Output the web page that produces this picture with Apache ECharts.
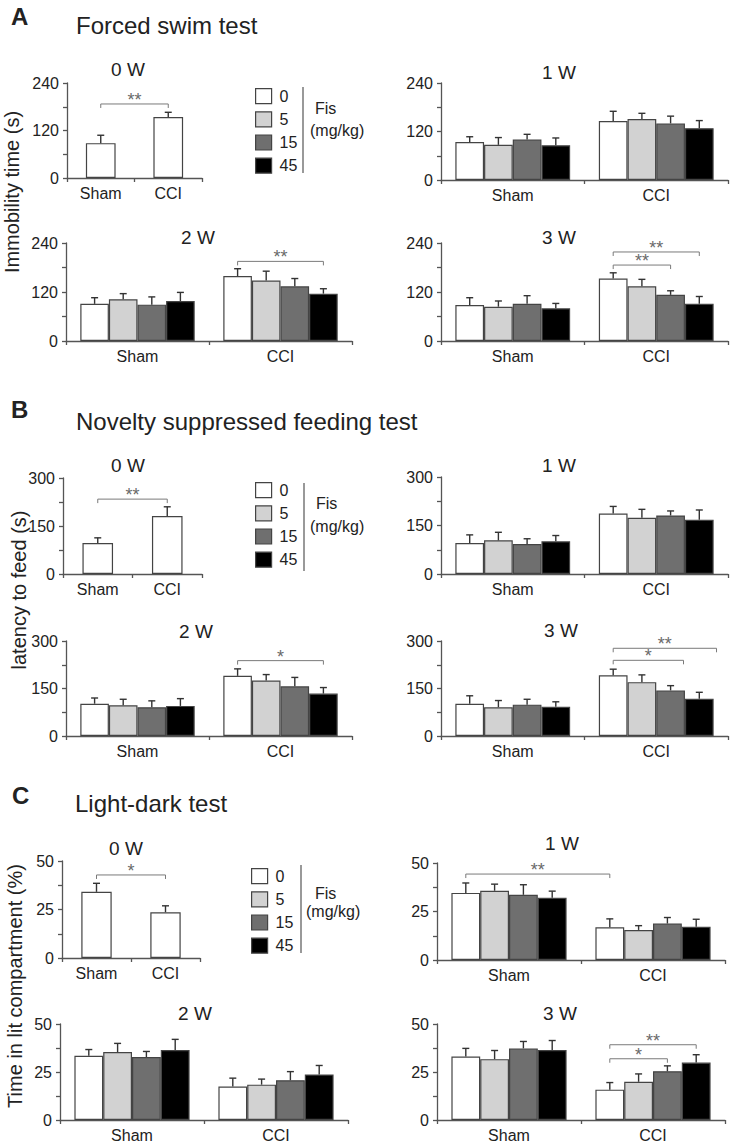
<!DOCTYPE html>
<html><head><meta charset="utf-8">
<script src="https://cdn.jsdelivr.net/npm/echarts@6/dist/echarts.min.js"></script>
<style>html,body{margin:0;padding:0;background:#fff}#c{width:731px;height:1145px}</style>
</head><body><div id="c"></div>
<script>
// ---------- data ----------
const categories = ['Sham', 'CCI'];
const doses = ['0', '5', '15', '45'];
const fstTicks = [0, 120, 240];
const nsfTicks = [0, 150, 300];
const ldtTicks = [0, 25, 50];

// A: Forced swim test, immobility time (s); rows = [Sham, CCI], cols = dose 0,5,15,45
const fst0W_mean = [88, 154], fst0W_sem = [20, 12];
const fst1W_mean = [[94, 87, 100, 86], [146, 151, 140, 128]];
const fst1W_sem = [[13, 18, 13, 18], [24, 14, 18, 19]];
const fst2W_mean = [[91, 102, 89, 98], [159, 148, 134, 116]];
const fst2W_sem = [[15, 14, 19, 21], [18, 23, 19, 12]];
const fst3W_mean = [[88, 84, 91, 80], [153, 134, 113, 91]];
const fst3W_sem = [[18, 14, 20, 12], [14, 17, 10, 18]];

// B: Novelty suppressed feeding test, latency to feed (s)
const nsf0W_mean = [97, 181], nsf0W_sem = [16, 29];
const nsf1W_mean = [[96, 104, 93, 101], [187, 174, 181, 168]];
const nsf1W_sem = [[25, 25, 16, 18], [22, 26, 14, 30]];
const nsf2W_mean = [[102, 97, 91, 95], [190, 175, 157, 134]];
const nsf2W_sem = [[18, 19, 20, 23], [22, 19, 28, 19]];
const nsf3W_mean = [[102, 91, 99, 92], [192, 170, 144, 118]];
const nsf3W_sem = [[25, 21, 17, 16], [19, 23, 15, 20]];

// C: Light-dark test, time in lit compartment (%)
const ldt0W_mean = [34.1, 23.6], ldt0W_sem = [4.4, 3.3];
const ldt1W_mean = [[34.6, 35.7, 33.6, 32.1], [16.9, 15.5, 18.8, 17.2]];
const ldt1W_sem = [[5.1, 3.4, 5.2, 3.4], [4.3, 2.2, 3.1, 3.8]];
const ldt2W_mean = [[33.4, 35.4, 32.8, 36.4], [17.4, 18.4, 20.7, 23.7]];
const ldt2W_sem = [[3.3, 4.5, 2.9, 5.6], [4.4, 2.9, 4.5, 4.7]];
const ldt3W_mean = [[33.1, 31.7, 37.3, 36.4], [15.8, 19.9, 25.4, 29.9]];
const ldt3W_sem = [[4.2, 4.5, 3.6, 5.0], [3.7, 4.1, 2.8, 4.1]];

// significance brackets: [group1, dose1, group2, dose2, level, label]
const fst0W_sig = [[0, 0, 1, 0, 187, '**']];
const fst2W_sig = [[1, 0, 1, 3, 195, '**']];
const fst3W_sig = [[1, 0, 1, 2, 186, '**'], [1, 0, 1, 3, 218, '**']];
const nsf0W_sig = [[0, 0, 1, 0, 234, '**']];
const nsf2W_sig = [[1, 0, 1, 3, 238, '*']];
const nsf3W_sig = [[1, 0, 1, 2.45, 239, '*'], [1, 0, 1, 3.6, 277, '**']];
const ldt0W_sig = [[0, 0, 1, 0, 42.8, '*']];
const ldt1W_sig = [[0, 0, 1, 0, 44.3, '**']];
const ldt3W_sig = [[1, 0, 1, 2, 31.9, '*'], [1, 0, 1, 3, 39.2, '**']];

// ---------- style / layout ----------
const FONT = 'Liberation Sans, Arial, Helvetica, sans-serif';
const doseColors = ['#ffffff', '#d2d2d2', '#6f6f6f', '#000000'];
const AX = '#555';
const TXT = '#222';

const panels = [
  {grid: [67, 83, 135, 95], ticks: fstTicks, mean: fst0W_mean, sem: fst0W_sem, sig: fst0W_sig, title: '0 W', tpos: [128, 69.5]},
  {grid: [441, 83, 287, 97], ticks: fstTicks, mean: fst1W_mean, sem: fst1W_sem, sig: [], title: '1 W', tpos: [559, 72]},
  {grid: [66, 243, 286, 98], ticks: fstTicks, mean: fst2W_mean, sem: fst2W_sem, sig: fst2W_sig, title: '2 W', tpos: [198, 237]},
  {grid: [441, 243, 287, 98], ticks: fstTicks, mean: fst3W_mean, sem: fst3W_sem, sig: fst3W_sig, title: '3 W', tpos: [559, 237]},
  {grid: [63, 478, 139, 96], ticks: nsfTicks, mean: nsf0W_mean, sem: nsf0W_sem, sig: nsf0W_sig, title: '0 W', tpos: [128, 465]},
  {grid: [441, 477, 287, 97], ticks: nsfTicks, mean: nsf1W_mean, sem: nsf1W_sem, sig: [], title: '1 W', tpos: [559, 465]},
  {grid: [66, 641, 286, 95], ticks: nsfTicks, mean: nsf2W_mean, sem: nsf2W_sem, sig: nsf2W_sig, title: '2 W', tpos: [196, 631]},
  {grid: [441, 641, 287, 95], ticks: nsfTicks, mean: nsf3W_mean, sem: nsf3W_sem, sig: nsf3W_sig, title: '3 W', tpos: [561, 630]},
  {grid: [62, 861, 138, 97], ticks: ldtTicks, mean: ldt0W_mean, sem: ldt0W_sem, sig: ldt0W_sig, title: '0 W', tpos: [126, 848]},
  {grid: [437, 863, 288, 97], ticks: ldtTicks, mean: ldt1W_mean, sem: ldt1W_sem, sig: ldt1W_sig, title: '1 W', tpos: [562, 843]},
  {grid: [60, 1024, 288, 96], ticks: ldtTicks, mean: ldt2W_mean, sem: ldt2W_sem, sig: [], title: '2 W', tpos: [195, 1013]},
  {grid: [437, 1024, 288, 96], ticks: ldtTicks, mean: ldt3W_mean, sem: ldt3W_sem, sig: ldt3W_sig, title: '3 W', tpos: [560, 1013]}
];

const grids = [], xAxes = [], yAxes = [], series = [], graphics = [];

function errRender(frac, n) {
  return function (params, api) {
    const c = api.value(0), m = api.value(1), e = api.value(2), s = api.value(3);
    const band = api.size([1, 0])[0];
    const base = api.coord([c, m]);
    const top = api.coord([c, m + e]);
    const x = base[0] + (s - (n - 1) / 2) * band * frac;
    const st = {stroke: '#333', lineWidth: 1.4};
    return {type: 'group', children: [
      {type: 'line', shape: {x1: x, y1: base[1], x2: x, y2: top[1]}, style: st},
      {type: 'line', shape: {x1: x - 3.5, y1: top[1], x2: x + 3.5, y2: top[1]}, style: st}
    ]};
  };
}
function sigRender(list, frac, n) {
  return function (params, api) {
    const b = list[params.dataIndex];
    const band = api.size([1, 0])[0];
    const x1 = api.coord([b[0], 0])[0] + (b[1] - (n - 1) / 2) * band * frac;
    const x2 = api.coord([b[2], 0])[0] + (b[3] - (n - 1) / 2) * band * frac;
    const y = api.coord([b[0], b[4]])[1];
    return {type: 'group', children: [
      {type: 'polyline', shape: {points: [[x1, y + 4], [x1, y], [x2, y], [x2, y + 4]]},
        style: {stroke: '#7a7a7a', lineWidth: 1, fill: null}},
      {type: 'text', x: (x1 + x2) / 2, y: y + 5,
        style: {text: b[5], fill: '#6a6a6a', font: '18px ' + FONT, align: 'center', verticalAlign: 'bottom'}}
    ]};
  };
}

panels.forEach((p, i) => {
  const single = !Array.isArray(p.mean[0]);
  const n = single ? 1 : 4;
  const frac = single ? 0.44 : 0.2;
  grids.push({left: p.grid[0], top: p.grid[1], width: p.grid[2], height: p.grid[3], containLabel: false, outerBoundsMode: 'none'});
  xAxes.push({
    gridIndex: i, type: 'category', data: categories,
    axisLine: {show: true, lineStyle: {color: AX, width: 1.3}},
    axisTick: {show: true, length: 4, lineStyle: {color: AX, width: 1.3}},
    axisLabel: {show: true, fontSize: 16, color: TXT, margin: 7, fontFamily: FONT},
    splitLine: {show: false}
  });
  yAxes.push({
    gridIndex: i, type: 'value', min: p.ticks[0], max: p.ticks[2], interval: p.ticks[1] - p.ticks[0],
    axisLine: {show: true, lineStyle: {color: AX, width: 1.3}},
    axisTick: {show: true, length: 4, lineStyle: {color: AX, width: 1.3}},
    minorTick: {show: true, splitNumber: 2, length: 4, lineStyle: {color: AX, width: 1.3}},
    axisLabel: {show: true, fontSize: 16, color: TXT, margin: 8, fontFamily: FONT},
    splitLine: {show: false}, minorSplitLine: {show: false}
  });
  const errData = [];
  if (single) {
    series.push({
      name: doses[0], type: 'bar', xAxisIndex: i, yAxisIndex: i, barWidth: '44%',
      data: p.mean, itemStyle: {color: doseColors[0], borderColor: '#444', borderWidth: 1.2}
    });
    p.mean.forEach((v, g) => errData.push([g, v, p.sem[g], 0]));
  } else {
    doses.forEach((d, k) => {
      series.push({
        name: d, type: 'bar', xAxisIndex: i, yAxisIndex: i, barWidth: '20%', barGap: '0%',
        data: p.mean.map(row => row[k]),
        itemStyle: {color: doseColors[k], borderColor: '#444', borderWidth: 1.2}
      });
      p.mean.forEach((row, g) => errData.push([g, row[k], p.sem[g][k], k]));
    });
  }
  series.push({type: 'custom', xAxisIndex: i, yAxisIndex: i, z: 5, silent: true, clip: false,
    renderItem: errRender(frac, n), data: errData});
  if (p.sig.length) {
    series.push({type: 'custom', xAxisIndex: i, yAxisIndex: i, z: 5, silent: true, clip: false,
      renderItem: sigRender(p.sig, frac, n), data: p.sig.map(b => [b[0], b[4]])});
  }
  graphics.push({type: 'text', x: p.tpos[0], y: p.tpos[1],
    style: {text: p.title, font: '19px ' + FONT, fill: TXT, align: 'center', verticalAlign: 'middle'}});
});

function txt(t, x, y, font, align, rot) {
  graphics.push({type: 'text', x: x, y: y, rotation: rot || 0,
    style: {text: t, font: font + ' ' + FONT, fill: TXT, align: align || 'left', verticalAlign: 'middle'}});
}
// panel letters & titles
txt('A', 11, 16, 'bold 24px');
txt('Forced swim test', 76, 25, '24px');
txt('B', 11, 409, 'bold 24px');
txt('Novelty suppressed feeding test', 76, 421, '24px');
txt('C', 12, 795, 'bold 24px');
txt('Light-dark test', 75, 803, '24px');
// y-axis titles
txt('Immobility time (s)', 12, 192, '20px', 'center', Math.PI / 2);
txt('latency to feed (s)', 19, 590, '20px', 'center', Math.PI / 2);
txt('Time in lit compartment (%)', 15, 986, '20px', 'center', Math.PI / 2);
// legend side notes
[[303, 87, 173, 315, 108, 310, 130], [304, 483, 571, 316, 503, 310, 526], [301, 865, 953, 315, 893, 306, 911]].forEach(a => {
  graphics.push({type: 'line', shape: {x1: a[0], y1: a[1], x2: a[0], y2: a[2]}, style: {stroke: '#555', lineWidth: 1.2}});
  txt('Fis', a[3], a[4], '16px');
  txt('(mg/kg)', a[5], a[6], '16px');
});

function legendAt(left, top) {
  return {data: doses, orient: 'vertical', left: left, top: top, padding: 0,
    itemWidth: 16, itemHeight: 15, itemGap: 7, icon: 'rect', selectedMode: false,
    itemStyle: {borderColor: '#444', borderWidth: 1.2},
    textStyle: {fontSize: 16, color: TXT, fontFamily: FONT, padding: [0, 0, 0, 3]}};
}

const chart = echarts.init(document.getElementById('c'), null, {renderer: 'svg'});
chart.setOption({
  animation: false,
  backgroundColor: '#fff',
  textStyle: {fontFamily: FONT},
  grid: grids, xAxis: xAxes, yAxis: yAxes, series: series,
  legend: [legendAt(255, 88), legendAt(255, 482), legendAt(251, 868)],
  graphic: graphics
});
</script></body></html>
